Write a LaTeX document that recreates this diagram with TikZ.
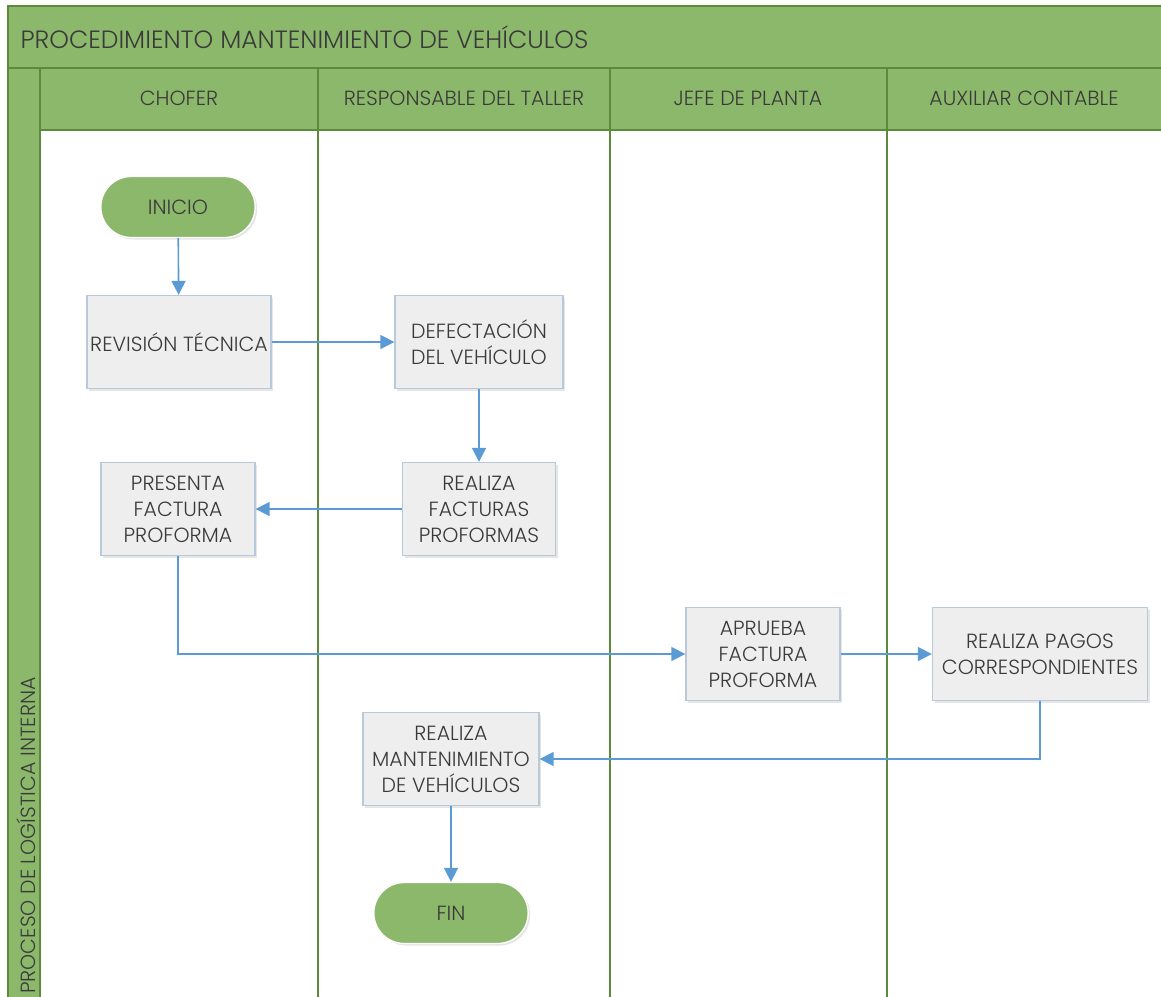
\documentclass[tikz,border=0pt]{standalone}
\usepackage{fontspec}
\setmainfont{Poppins Light}
\usetikzlibrary{arrows.meta,positioning,shapes.misc,shadows}
\definecolor{lanegreen}{HTML}{8CB86C}
\definecolor{laneline}{HTML}{5B8A3A}
\definecolor{flowblue}{HTML}{5B9BD5}
\definecolor{boxfill}{HTML}{EEEEEE}
\definecolor{boxline}{HTML}{B7C9DB}
\definecolor{textgray}{HTML}{3A3A3A}

\begin{document}
\begin{tikzpicture}[x=1pt, y=-1pt, >={Triangle[length=14pt,width=14pt]}, font=\fontsize{20.5}{26}\selectfont, text=textgray]
\tikzstyle{task}=[draw=boxline, fill=boxfill, line width=1.3pt, align=center, minimum height=93pt, inner sep=2pt, drop shadow={opacity=0.2, shadow xshift=2pt, shadow yshift=-2pt}]
\tikzstyle{term}=[rounded rectangle, draw=white, line width=1.3pt, fill=lanegreen, minimum width=161pt, minimum height=61pt, drop shadow={opacity=0.2, shadow xshift=2pt, shadow yshift=-2pt}]
\tikzstyle{flow}=[->, draw=flowblue, line width=1.6pt]
\tikzstyle{band}=[fill=lanegreen, draw=laneline, line width=1.4pt]
\useasboundingbox (0,0) rectangle (1161,996);
% pool and lanes
\draw[band] (8,6) rectangle (1163,68);
\draw[band] (8,68) rectangle (40,999);
\draw[band] (40,68) rectangle (1163,130);
\foreach \x in {318,610,887}
  \draw[laneline, line width=1.4pt] (\x,68) -- (\x,999);
\node[anchor=west] (title) at (17,37) {\fontsize{25}{28}\selectfont PROCEDIMIENTO MANTENIMIENTO DE VEHÍCULOS};
\node[rotate=90, anchor=west, inner sep=0pt] (proc) at (26,994) {PROCESO DE LOGÍSTICA INTERNA};
\node (chofer)   at (179,98)  {CHOFER};
\node (taller)   at (464,98)  {RESPONSABLE DEL TALLER};
\node (jefe)     at (748,98)  {JEFE DE PLANTA};
\node (auxiliar) at (1024,98) {AUXILIAR CONTABLE};
% flow
\node[term] (inicio) at (178,207) {INICIO};
\node[task, minimum width=184pt] (revision)  at (179,342)  {REVISIÓN TÉCNICA};
\node[task, minimum width=168pt] (defecta)   at (479,342)  {DEFECTACIÓN\\DEL VEHÍCULO};
\node[task, minimum width=153pt] (facturas)  at (479,509)  {REALIZA\\FACTURAS\\PROFORMAS};
\node[task, minimum width=154pt] (presenta)  at (178,509)  {PRESENTA\\FACTURA\\PROFORMA};
\node[task, minimum width=154pt] (aprueba)   at (763,654)  {APRUEBA\\FACTURA\\PROFORMA};
\node[task, minimum width=215pt] (pagos)     at (1040,654) {REALIZA PAGOS\\CORRESPONDIENTES};
\node[task, minimum width=176pt] (manten)    at (451,759)  {REALIZA\\MANTENIMIENTO\\DE VEHÍCULOS};
\node[term] (fin) at (451,913) {FIN};
\draw[flow] (inicio) -- (revision);
\draw[flow] (revision) -- (defecta);
\draw[flow] (defecta) -- (facturas);
\draw[flow] (facturas) -- (presenta);
\draw[flow] (presenta.south) |- (aprueba.west);
\draw[flow] (aprueba) -- (pagos);
\draw[flow] (pagos.south) |- (manten.east);
\draw[flow] (manten) -- (fin);
\end{tikzpicture}
\end{document}
